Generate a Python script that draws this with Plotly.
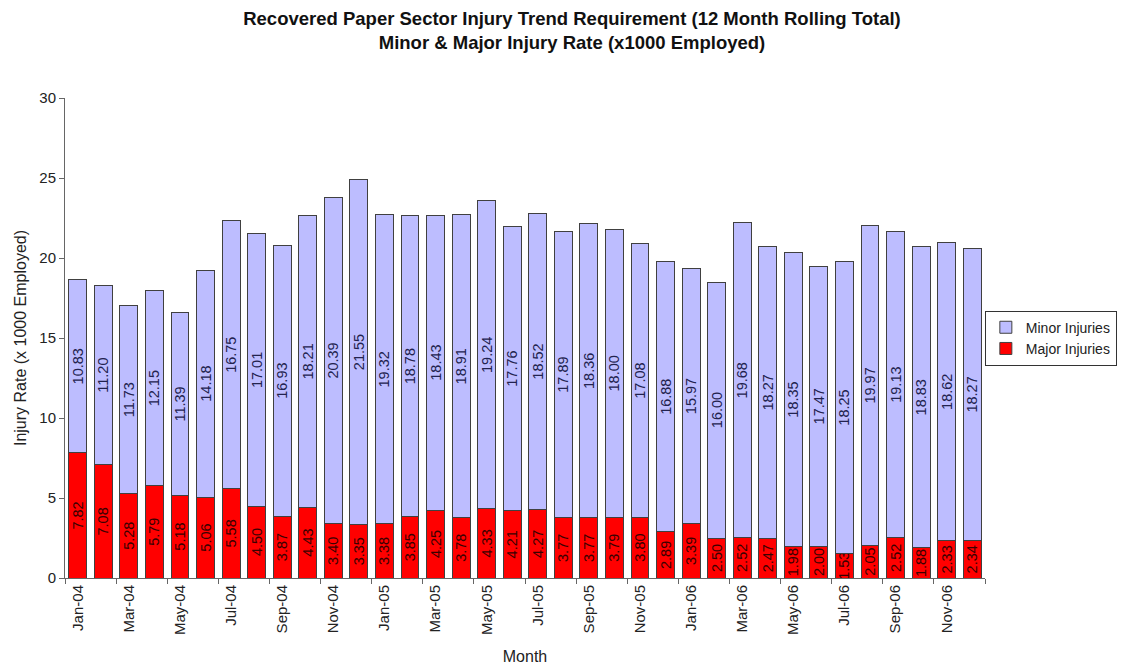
import plotly.graph_objects as go

months = ["Jan-04","Feb-04","Mar-04","Apr-04","May-04","Jun-04","Jul-04","Aug-04","Sep-04","Oct-04","Nov-04","Dec-04",
          "Jan-05","Feb-05","Mar-05","Apr-05","May-05","Jun-05","Jul-05","Aug-05","Sep-05","Oct-05","Nov-05","Dec-05",
          "Jan-06","Feb-06","Mar-06","Apr-06","May-06","Jun-06","Jul-06","Aug-06","Sep-06","Oct-06","Nov-06","Dec-06"]
major = [7.82, 7.08, 5.28, 5.79, 5.18, 5.06, 5.58, 4.50, 3.87, 4.43, 3.40, 3.35,
         3.38, 3.85, 4.25, 3.78, 4.33, 4.21, 4.27, 3.77, 3.77, 3.79, 3.80, 2.89,
         3.39, 2.50, 2.52, 2.47, 1.98, 2.00, 1.53, 2.05, 2.52, 1.88, 2.33, 2.34]
minor = [10.83, 11.20, 11.73, 12.15, 11.39, 14.18, 16.75, 17.01, 16.93, 18.21, 20.39, 21.55,
         19.32, 18.78, 18.43, 18.91, 19.24, 17.76, 18.52, 17.89, 18.36, 18.00, 17.08, 16.88,
         15.97, 16.00, 19.68, 18.27, 18.35, 17.47, 18.25, 19.97, 19.13, 18.83, 18.62, 18.27]

font_family = "Liberation Sans, Arial, sans-serif"
label_size = 14.5

fig = go.Figure()
fig.add_trace(go.Bar(
    x=months, y=major, name="Major Injuries",
    marker=dict(color="#FF0000", line=dict(color="#404040", width=1)),
    text=[f"{v:.2f}" for v in major], textposition="inside", insidetextanchor="middle",
    textangle=-90, textfont=dict(color="#3a0000", size=label_size, family=font_family),
))
fig.add_trace(go.Bar(
    x=months, y=minor, name="Minor Injuries",
    marker=dict(color="#BDBDFF", line=dict(color="#404040", width=1)),
    text=[f"{v:.2f}" for v in minor], textposition="inside", insidetextanchor="middle",
    textangle=-90, textfont=dict(color="#22224e", size=label_size, family=font_family),
))

fig.update_layout(
    width=1128, height=667,
    barmode="stack", bargap=0.3,
    plot_bgcolor="white", paper_bgcolor="white",
    font=dict(family=font_family, size=15, color="#222222"),
    margin=dict(l=57, r=151, t=90, b=97, autoexpand=False),
    title=dict(
        text="<b>Recovered Paper Sector Injury Trend Requirement (12 Month Rolling Total)<br>Minor & Major Injury Rate (x1000 Employed)</b>",
        x=0.5, xanchor="center", xref="container",
        y=0.975, yanchor="middle", yref="container",
        font=dict(size=18.5, color="#111111", family=font_family),
    ),
    uniformtext=dict(minsize=label_size, mode="show"),
    legend=dict(
        xref="container", yref="container",
        x=0.866, y=0.505, xanchor="left", yanchor="middle",
        traceorder="reversed", bordercolor="#333333", borderwidth=1,
        font=dict(size=14, family=font_family), bgcolor="white",
        itemwidth=30, tracegroupgap=0,
    ),
    xaxis=dict(
        type="category", showline=True, linecolor="#666666", linewidth=1,
        ticks="outside", ticklen=5, tickcolor="#666666", tickson="boundaries",
        dtick=2, tickangle=-90, showgrid=False,
        title=dict(text="Month", font=dict(size=16), standoff=16),
        tickfont=dict(size=15),
    ),
    yaxis=dict(
        range=[0, 30], dtick=5, showline=True, linecolor="#666666", linewidth=1,
        ticks="outside", ticklen=5, tickcolor="#666666", showgrid=False, zeroline=False,
        title=dict(text="Injury Rate (x 1000 Employed)", font=dict(size=16), standoff=8),
        tickfont=dict(size=15),
    ),
)

fig.write_html("out.html")
